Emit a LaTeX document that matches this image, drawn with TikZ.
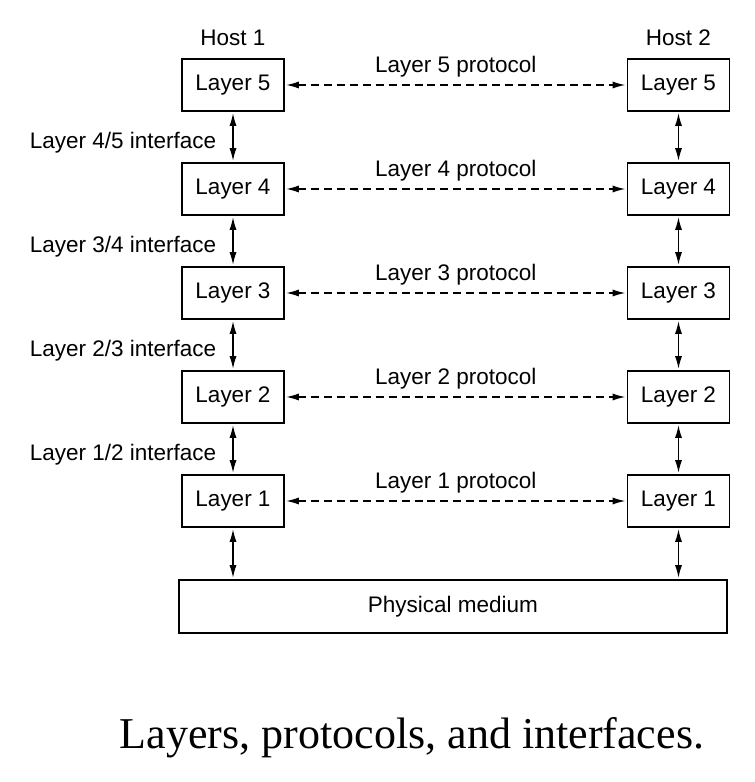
\documentclass[tikz,border=0pt]{standalone}
\usepackage{fontspec}
\setmainfont{Liberation Sans}
\newfontfamily\capfont{Liberation Serif}
\usetikzlibrary{arrows.meta}

\begin{document}
\begin{tikzpicture}[x=0.025cm,y=-0.025cm,
    layerbox/.style={draw,line width=1pt,inner sep=0pt,minimum width=2.55cm,
      minimum height=1.3cm,font=\fontsize{16}{19}\selectfont},
    lbl/.style={inner sep=0pt,font=\fontsize{16}{19}\selectfont},
    iface/.style={{Latex[length=9pt,width=5pt]}-{Latex[length=9pt,width=5pt]},
      line width=1pt,shorten <=1pt,shorten >=1pt},
    proto/.style={iface,dash pattern=on 5.7pt off 3.5pt}]
    \useasboundingbox (0,0) rectangle (755,782);
    % the two stacks and the peer protocols
    \foreach \i in {1,...,5} {
      \node[layerbox] (l\i) at (233,{85+(5-\i)*104}) {Layer \i};
      \node[layerbox] (r\i) at (678.5,{85+(5-\i)*104}) {Layer \i};
      \draw[proto] (l\i) -- (r\i)
        node[lbl,midway,above=0.17cm] (p\i) {Layer \i\ protocol};
    }
    \node[lbl,above=0.3cm] (h1) at (l5.north) {Host 1};
    \node[lbl,above=0.3cm] (h2) at (r5.north) {Host 2};
    % interfaces between adjacent layers
    \foreach \i in {1,...,4} {
      \pgfmathtruncatemacro{\j}{\i+1}
      \draw[iface] (l\i.north) -- (l\j.south)
        node[lbl,midway,left=0.4cm,yshift=-4pt] (i\i) {Layer \i/\j\ interface};
      \draw[iface] (r\i.north) -- (r\j.south);
    }
    \node[layerbox,minimum width=13.7cm,minimum height=1.325cm] (pm) at (453,606.5)
      {Physical medium};
    \draw[iface] (l1.south) -- (l1.south |- pm.north);
    \draw[iface] (r1.south) -- (r1.south |- pm.north);
    \node[anchor=base,inner sep=0pt,font=\capfont\fontsize{31.3}{36}\selectfont] (cap)
      at (412,748) {Layers, protocols, and interfaces.};
  \end{tikzpicture}
\end{document}
